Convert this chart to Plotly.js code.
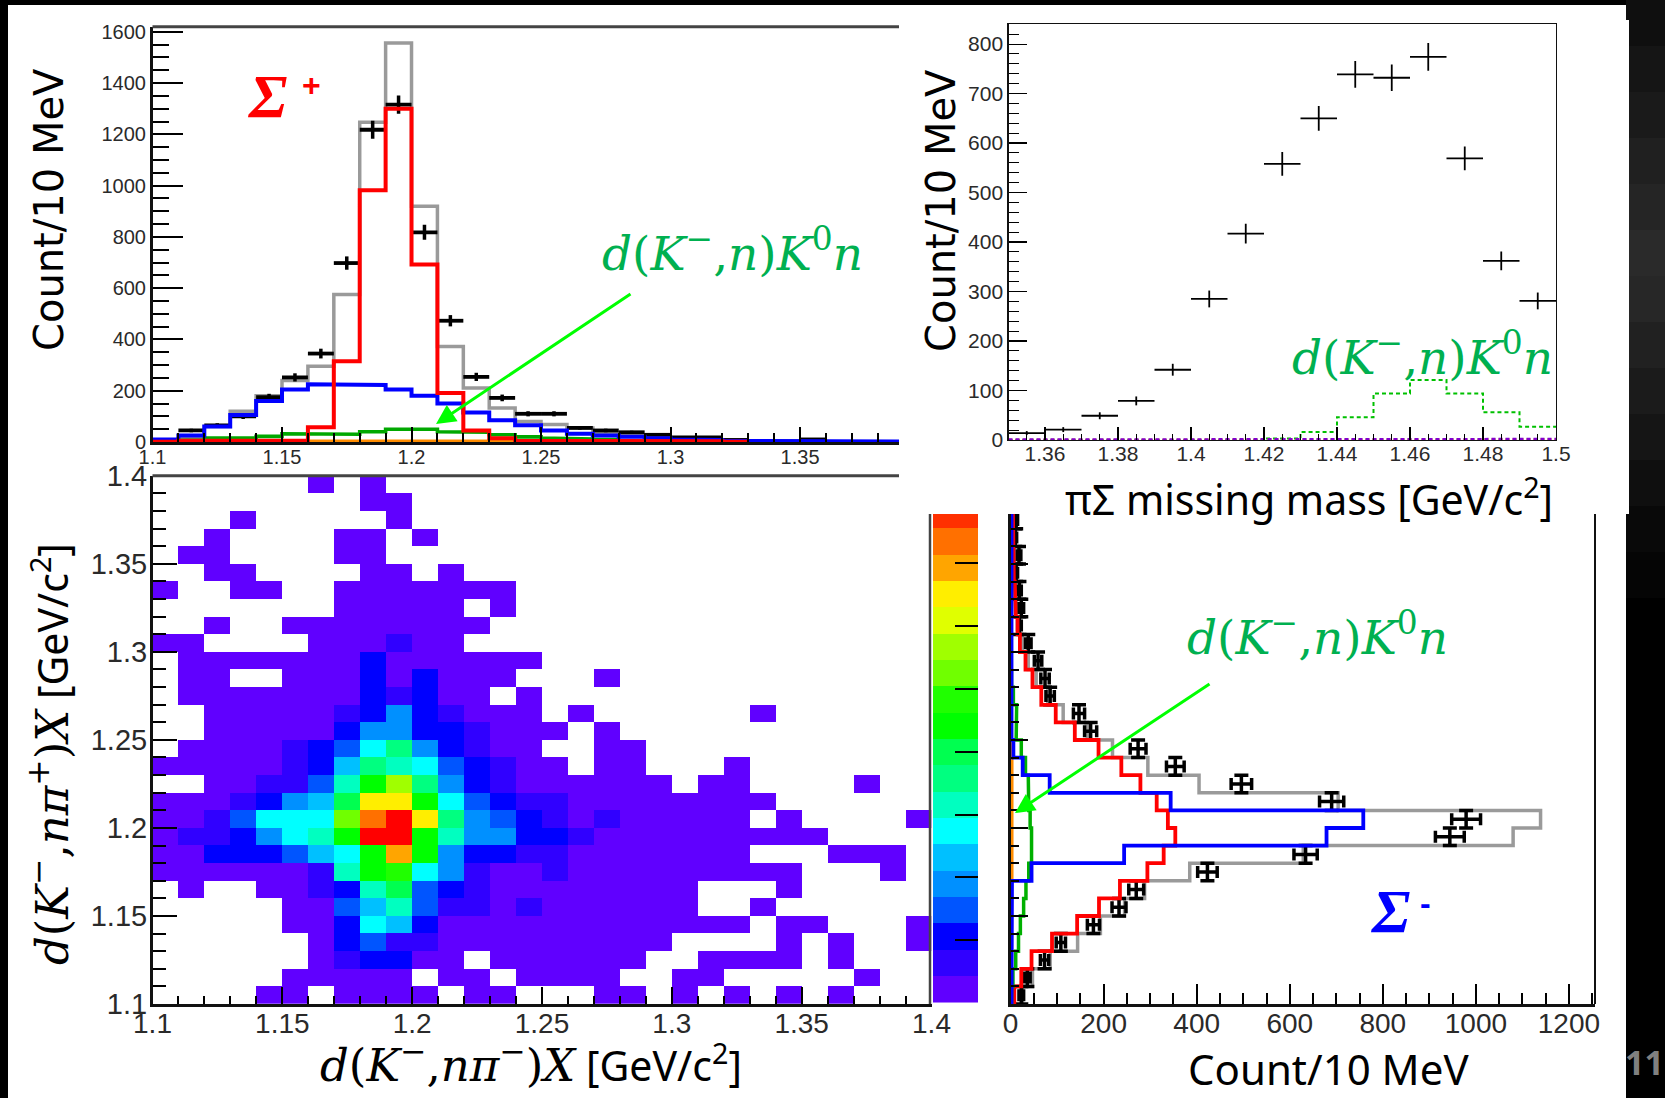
<!DOCTYPE html>
<html><head><meta charset="utf-8">
<script src="https://cdn.plot.ly/plotly-3.0.1.min.js"></script>
<style>html,body{margin:0;padding:0;background:#000;overflow:hidden}</style>
</head><body><div id="chart" style="width:1665px;height:1098px"></div>
<script>
const W = 1665, H = 1098, _ = null;

// top-left: Sigma+ projection (10 MeV bins starting at 1.10)
const topGrey  = [5,15,60,120,180,240,295,575,1247,1556,920,373,211,133,80,68,55,35,25,15,10,8,5,2,1,1,1,1,1];
const topRed   = [1,5,5,5,5,5,58,315,982,1300,692,191,45,15,5,5,5,5,4,4,3,3,1];
const topBlue  = [10,25,60,105,160,205,225,222,222,205,180,150,115,85,65,45,32,25,20,15,10,8,5,2,2,2,2,2,2];
const topGreen = [5,8,15,15,22,32,30,30,40,50,50,40,38,28,20,15,12,10,5,2];
const topOrangeX = [1.16,1.24];
const topOrangeV = [3,3];
const topDataX = [1.115,1.125,1.135,1.145,1.155,1.165,1.175,1.185,1.195,1.205,1.215,1.225,1.235,1.245,1.255,1.265,1.275,1.285,1.295,1.305,1.315,1.325,1.335,1.345,1.355];
const topData  = [45,65,100,175,252,345,698,1218,1316,818,473,254,172,110,110,55,45,38,28,18,18,8,2,2,10];
const topDataErr = [7,8,10,13,16,19,26,35,36,29,22,16,13,10,10,7,7,6,5,4,4,3,1,1,3];

// top-right: pi-Sigma missing mass (bins 1.35 .. 1.50)
const trDataX = [1.355,1.365,1.375,1.385,1.395,1.405,1.415,1.425,1.435,1.445,1.455,1.465,1.475,1.485,1.495];
const trData  = [14,21,49,79,142,285,417,558,650,739,732,774,569,362,281];
const trErr   = [4,5,7,9,12,17,20,24,25,27,27,28,24,19,17];
const trGreen = [0,0,0,0,0,0,0,3,16,46,94,121,94,56,27];
const trPurple= [1,1,1,1,1,2,2,2,2,2,2,2,2,2,2];
const trOrange= [0,0,0,0,0,0,1,1,1,1,1,1,1,1,1];

// right: Sigma- projection (10 MeV bins starting at 1.10, y direction)
const rightGrey  = [25,47,85,144,193,245,288,385,629,1080,1139,704,405,295,219,165,113,80,55,38,25,18,13,10,8,7,6,6];
const rightRed   = [8,23,45,89,143,190,235,294,329,354,338,314,279,238,189,138,97,66,47,32,20,15,11,9,7,6,6,5];
const rightBlue  = [2,2,2,2,2,2,3,45,244,679,758,344,84,26,6,2,2,2,2,2,2,2,2,2,2,2,2,2];
const rightGreen = [2,5,11,17,21,28,33,39,45,45,42,39,38,32,23,12,13,6,2];
const rightOrangeY = [1.17,1.25];
const rightOrangeV = [2,2];
const rightPurpleY = [1.15,1.21];
const rightPurpleV = [1,1];
const rightDataY = [1.105,1.115,1.125,1.135,1.145,1.155,1.165,1.175,1.185,1.195,1.205,1.215,1.225,1.235,1.245,1.255,1.265,1.275,1.285,1.295,1.305,1.315,1.325,1.335,1.345,1.355,1.365,1.375];
const rightData  = [23,36,73,108,178,233,270,423,634,944,979,690,496,354,274,172,147,85,74,59,38,19,23,19,12,18,10,12];
const rightErr   = [5,6,9,10,13,15,16,21,25,31,31,26,22,19,17,13,12,9,9,8,6,4,5,4,3,4,3,3];

// colour levels (ROOT rainbow palette, bottom to top)
const levelColors = ['#6000ff','#3000ff','#0000ff','#0055ff','#0090ff','#00c0ff','#00ffff','#00ffc0','#00ff80','#00ff50',
                     '#00ff00','#20ff00','#70ff00','#a0ff00','#e0ff00','#ffee00','#ffa500','#ff7000','#ff3000','#ff0000'];
const levelStep = 4.2;

// slide background greys down the right-hand strip
const stripGreys = ['#0f0f0f','#151515','#1a1a1a','#202020','#252525','#2a2a2a','#272727','#212121','#1b1b1b','#151515','#0f0f0f','#090909','#050505'];

// 2D histogram, colour level per cell; first row is the top row (1.39-1.40)
const cells = [
[_,_,_,_,_,_,0,_,0,_, _,_,_,_,_,_,_,_,_,_, _,_,_,_,_,_,_,_,_,_],
[_,_,_,_,_,_,_,_,0,0, _,_,_,_,_,_,_,_,_,_, _,_,_,_,_,_,_,_,_,_],
[_,_,_,0,_,_,_,_,_,0, _,_,_,_,_,_,_,_,_,_, _,_,_,_,_,_,_,_,_,_],
[_,_,0,_,_,_,_,0,0,_, 0,_,_,_,_,_,_,_,_,_, _,_,_,_,_,_,_,_,_,_],
[_,0,0,_,_,_,_,0,0,_, _,_,_,_,_,_,_,_,_,_, _,_,_,_,_,_,_,_,_,_],
[_,_,0,0,_,_,_,_,0,0, _,0,_,_,_,_,_,_,_,_, _,_,_,_,_,_,_,_,_,_],
[0,_,_,0,0,_,_,0,0,0, 0,0,0,0,_,_,_,_,_,_, _,_,_,_,_,_,_,_,_,_],
[_,_,_,_,_,_,_,0,0,0, 0,0,_,0,_,_,_,_,_,_, _,_,_,_,_,_,_,_,_,_],
[_,_,0,_,_,0,0,0,0,0, 0,0,0,_,_,_,_,_,_,_, _,_,_,_,_,_,_,_,_,_],
[0,0,_,_,_,_,0,0,0,1, 0,0,_,_,_,_,_,_,_,_, _,_,_,_,_,_,_,_,_,_],
[_,0,0,0,0,0,0,0,2,0, 0,0,0,0,0,_,_,_,_,_, _,_,_,_,_,_,_,_,_,_],
[_,0,0,_,_,0,0,0,2,0, 2,0,0,0,_,_,_,0,_,_, _,_,_,_,_,_,_,_,_,_],
[_,0,0,0,0,0,0,0,2,1, 2,0,0,_,0,_,_,_,_,_, _,_,_,_,_,_,_,_,_,_],
[_,_,0,0,0,0,0,1,2,4, 2,1,0,0,0,_,0,_,_,_, _,_,_,0,_,_,_,_,_,_],
[_,_,0,0,0,0,0,2,4,4, 2,2,1,0,0,0,_,0,_,_, _,_,_,_,_,_,_,_,_,_],
[_,0,0,0,0,1,2,3,6,8, 4,2,1,0,0,_,_,0,0,_, _,_,_,_,_,_,_,_,_,_],
[0,0,0,0,0,1,2,5,8,7, 6,3,2,1,0,0,_,0,0,_, _,_,0,_,_,_,_,_,_,_],
[_,_,0,0,1,1,3,7,10,13, 8,4,2,1,0,0,0,0,0,0, _,0,0,_,_,_,_,0,_,_],
[0,0,0,1,2,4,5,9,15,15, 10,6,3,2,1,1,0,0,0,0, 0,0,0,0,_,_,_,_,_,_],
[0,0,1,3,6,6,6,12,17,19, 15,8,4,3,2,1,0,1,0,0, 0,0,0,_,0,_,_,_,_,0],
[0,1,1,2,4,6,7,10,19,19, 10,7,4,4,2,2,1,0,0,0, 0,0,0,0,0,0,_,_,_,_],
[0,0,2,2,2,3,5,6,10,16, 10,4,2,2,1,1,0,0,0,0, 0,0,0,_,_,_,0,0,0,_],
[0,0,0,0,0,0,1,7,10,11, 6,4,1,0,0,1,0,0,0,0, 0,0,0,0,0,_,_,_,0,_],
[_,0,_,_,0,0,1,2,7,9, 3,2,1,0,0,0,0,0,0,0, 0,_,_,_,0,_,_,_,_,_],
[_,_,_,_,_,0,0,3,5,7, 3,1,1,0,1,0,0,0,0,0, 0,_,_,0,_,_,_,_,_,_],
[_,_,_,_,_,0,0,2,6,5, 2,0,0,0,0,0,0,0,0,0, 0,0,0,_,0,0,_,_,_,0],
[_,_,_,_,_,_,0,2,3,1, 1,0,0,0,0,0,0,0,0,0, _,_,_,_,0,_,0,_,_,0],
[_,_,_,_,_,_,0,1,2,2, 0,0,_,0,0,0,0,0,0,_, _,0,0,0,0,_,0,_,_,_],
[_,_,_,_,_,0,0,0,0,0, _,0,0,_,0,0,0,0,_,_, 0,0,_,_,_,_,_,0,_,_],
[_,_,_,_,0,0,_,0,0,0, 0,_,0,0,_,_,_,0,0,_, 0,_,0,_,0,_,0,_,_,_]
];

// ---- helpers ----
const binEdges = n => Array.from({length:n+1}, (_v,i) => +(1.10 + i*0.01).toFixed(2));
function steps(start, width, vals){
  const pos = [], val = [];
  vals.forEach((v,i) => { pos.push(+(start+i*width).toFixed(3), +(start+(i+1)*width).toFixed(3)); val.push(v,v); });
  return {pos, val};
}
const vh = (vals, color, width, axes, dash, start=1.10) => {
  const s = steps(start, 0.01, vals);
  return {type:'scatter', mode:'lines', x:s.pos, y:s.val, xaxis:axes[0], yaxis:axes[1],
          line:{color, width, dash:dash||'solid'}, hoverinfo:'skip'};
};
const hz = (vals, color, width, axes, start=1.10) => {
  const s = steps(start, 0.01, vals);
  return {type:'scatter', mode:'lines', x:s.val, y:s.pos, xaxis:axes[0], yaxis:axes[1],
          line:{color, width}, hoverinfo:'skip'};
};
const dx = ([a,b]) => [a/W, b/W];
const dy = ([t,b]) => [1-b/H, 1-t/H];
const tickCol = '#2a2a2a';

// ---- traces ----
const colorscale = [];
levelColors.forEach((c,i) => { colorscale.push([i/20,c],[(i+1)/20,c]); });
const TL=['x','y'], TR=['x2','y2'], MID=['x3','y3'], BR=['x4','y4'];
const traces = [
  vh(topGrey,'#9a9a9a',3.5,TL),
  {type:'scatter',mode:'markers',x:topDataX,y:topData,xaxis:'x',yaxis:'y',marker:{size:1,color:'#000'},hoverinfo:'skip',
   error_x:{type:'constant',value:0.005,thickness:3.8,width:0,color:'#000'},
   error_y:{type:'data',array:topDataErr,thickness:3.5,width:0,color:'#000'}},
  {type:'scatter',mode:'lines',x:topOrangeX,y:topOrangeV,xaxis:'x',yaxis:'y',line:{color:'#ff8c00',width:3.5},hoverinfo:'skip'},
  vh(topGreen,'#00a800',3.6,TL),
  vh(topBlue,'#0000ff',4,TL),
  vh(topRed,'#ff0000',4,TL),

  {type:'scatter',mode:'markers',x:trDataX,y:trData,xaxis:'x2',yaxis:'y2',marker:{size:1,color:'#000'},hoverinfo:'skip',
   error_x:{type:'constant',value:0.005,thickness:1.8,width:0,color:'#000'},
   error_y:{type:'data',array:trErr,thickness:1.8,width:0,color:'#000'}},
  vh(trGreen,'#00c000',2,TR,'4px,3px',1.35),
  vh(trOrange,'#ff8000',2.4,TR,'4px,3px',1.35),
  vh(trPurple,'#8000d0',2.4,TR,'4px,3px',1.35),

  {type:'heatmap',x:binEdges(30),y:binEdges(30),z:cells.slice().reverse(),xaxis:'x3',yaxis:'y3',
   zmin:-0.5,zmax:19.5,colorscale,showscale:false,hoverinfo:'skip'},
  {type:'heatmap',x:[0,1],y:levelColors.concat('end').map((c,i)=>+(i*levelStep).toFixed(1)),
   z:levelColors.map((c,i)=>[i]),xaxis:'x5',yaxis:'y5',
   zmin:-0.5,zmax:19.5,colorscale,showscale:false,hoverinfo:'skip'},

  hz(rightGrey,'#9a9a9a',3.5,BR),
  {type:'scatter',mode:'markers',x:rightData,y:rightDataY,xaxis:'x4',yaxis:'y4',marker:{size:1,color:'#000'},hoverinfo:'skip',
   error_x:{type:'data',array:rightErr,thickness:3.5,width:6,color:'#000'},
   error_y:{type:'constant',value:0.005,thickness:3.5,width:7,color:'#000'}},
  hz(rightRed,'#ff0000',3.8,BR),
  {type:'scatter',mode:'lines',x:rightPurpleV,y:rightPurpleY,xaxis:'x4',yaxis:'y4',line:{color:'#8000d0',width:3},hoverinfo:'skip'},
  {type:'scatter',mode:'lines',x:rightOrangeV,y:rightOrangeY,xaxis:'x4',yaxis:'y4',line:{color:'#ff8c00',width:4},hoverinfo:'skip'},
  hz(rightGreen,'#00b000',3.5,BR),
  hz(rightBlue,'#0000ff',3.8,BR)
];

// ---- axes ----
const axis = (o) => Object.assign({showgrid:false,zeroline:false,showline:true,linecolor:'#111',linewidth:2.5,
  ticks:'inside',tickcolor:'#000',tickwidth:2,tickfont:{family:'Liberation Sans',color:tickCol},fixedrange:true,layer:'above traces'},o);

const layout = {
  width:W,height:H,margin:{l:0,r:0,t:0,b:0},paper_bgcolor:'#000',plot_bgcolor:'rgba(0,0,0,0)',showlegend:false,
  xaxis:axis({domain:dx([152.5,899]),anchor:'y',range:[1.1,1.3882],tick0:1.1,dtick:0.05,ticklen:15,ticklabelstandoff:-5,tickfont:{family:'Liberation Sans',size:20,color:tickCol},
    minor:{ticks:'inside',tick0:1.1,dtick:0.01,ticklen:9,tickcolor:'#000',tickwidth:2}}),
  yaxis:axis({domain:dy([26.7,442]),anchor:'x',range:[0,1620],tick0:0,dtick:200,ticklen:30,tickfont:{family:'Liberation Sans',size:20,color:tickCol},
    minor:{ticks:'inside',tick0:0,dtick:50,ticklen:16,tickcolor:'#000',tickwidth:2}}),

  xaxis2:axis({domain:dx([1008.5,1556]),anchor:'y2',range:[1.35,1.5],tick0:1.36,dtick:0.02,ticklen:13,linewidth:1.2,tickwidth:1.2,mirror:true,ticklabelstandoff:-5,
    tickfont:{family:'Liberation Sans',size:21,color:tickCol},
    minor:{ticks:'inside',tick0:1.35,dtick:0.005,ticklen:6,tickcolor:'#000',tickwidth:1}}),
  yaxis2:axis({domain:dy([24.3,440]),anchor:'x2',range:[0,840],tick0:0,dtick:100,ticklen:18,linewidth:1.2,tickwidth:1.2,mirror:true,
    tickfont:{family:'Liberation Sans',size:21,color:tickCol},
    minor:{ticks:'inside',tick0:0,dtick:20,ticklen:10,tickcolor:'#000',tickwidth:1}}),

  xaxis3:axis({domain:dx([152.5,931.5]),anchor:'y3',range:[1.1,1.4],tick0:1.1,dtick:0.05,ticklen:17,ticklabelstandoff:-7,tickfont:{family:'Liberation Sans',size:28,color:tickCol},
    minor:{ticks:'inside',tick0:1.1,dtick:0.01,ticklen:8,tickcolor:'#000',tickwidth:2}}),
  yaxis3:axis({domain:dy([475.7,1004]),anchor:'x3',range:[1.1,1.4],tick0:1.1,dtick:0.05,ticklen:24,ticklabelstandoff:-3,tickfont:{family:'Liberation Sans',size:29,color:tickCol},
    minor:{ticks:'inside',tick0:1.1,dtick:0.01,ticklen:13,tickcolor:'#000',tickwidth:2}}),

  xaxis4:axis({domain:dx([1010.6,1595]),anchor:'y4',range:[0,1256],tick0:0,dtick:200,ticklen:20,ticklabelstandoff:-7,tickfont:{family:'Liberation Sans',size:28,color:tickCol},
    minor:{ticks:'inside',tick0:0,dtick:50,ticklen:11,tickcolor:'#000',tickwidth:2}}),
  yaxis4:axis({domain:dy([514,1004]),anchor:'x4',range:[1.1,1.3784],tick0:1.1,dtick:0.05,ticklen:17,showticklabels:false,
    minor:{ticks:'inside',tick0:1.1,dtick:0.01,ticklen:8,tickcolor:'#000',tickwidth:2}}),

  xaxis5:{domain:dx([933,978]),anchor:'y5',range:[0,1],visible:false,fixedrange:true},
  yaxis5:{domain:dy([514,1003]),anchor:'x5',side:'right',range:[0,77.87],showgrid:false,zeroline:false,showline:false,fixedrange:true,
    tick0:0,dtick:10,ticks:'inside',ticklen:23,tickwidth:2,tickcolor:'#000',showticklabels:false,layer:'above traces'},

  shapes:[],
  annotations:[]
};
// right-hand slide strip, then the white page and frame lines
stripGreys.forEach((c,i) => layout.shapes.push({type:'rect',xref:'paper',yref:'paper',layer:'below',
  x0:1626/W,x1:1,y0:1-(i+1)*46/H,y1:1-i*46/H,fillcolor:c,line:{width:0}}));
layout.shapes.push(
  {type:'rect',xref:'paper',yref:'paper',layer:'below',x0:8/W,x1:1626/W,y0:0,y1:1-5/H,fillcolor:'#fff',line:{width:0}},
  {type:'rect',xref:'paper',yref:'paper',layer:'below',x0:1626/W,x1:1629/W,y0:1-514/H,y1:1-20/H,fillcolor:'#fff',line:{width:0}},
  {type:'line',xref:'paper',yref:'paper',x0:152.5/W,x1:899/W,y0:1-26.7/H,y1:1-26.7/H,line:{color:'#444',width:3}},
  {type:'line',xref:'paper',yref:'paper',x0:152.5/W,x1:899/W,y0:1-475.7/H,y1:1-475.7/H,line:{color:'#444',width:3}},
  {type:'line',xref:'paper',yref:'paper',x0:930/W,x1:930/W,y0:1-1004/H,y1:1-514/H,line:{color:'#444',width:2.5}},
  {type:'line',xref:'paper',yref:'paper',x0:1595/W,x1:1595/W,y0:1-1004/H,y1:1-514/H,line:{color:'#111',width:2}}
);

// ---- text ----
const note = (px,py,text,size,color,family,extra) => layout.annotations.push(Object.assign(
  {xref:'paper',yref:'paper',x:px/W,y:1-py/H,xanchor:'center',yanchor:'middle',showarrow:false,text,
   font:{size,color,family}},extra||{}));
const serif = 'Liberation Serif', math = 'DejaVu Serif', sans = 'Noto Sans';
const reaction = '<i>d</i>(<i>K</i><sup>−</sup>,<i>n</i>)<i>K</i><sup>0</sup><i>n</i>';
const bracket = '<span style="font-family:Noto Sans;font-size:41px"> [GeV/c<sup>2</sup>]</span>';
note(49,210,'Count/10 MeV',40,'#000','DejaVu Sans',{textangle:-90});
note(941,210,'Count/10 MeV',40,'#000','DejaVu Sans',{textangle:-90});
note(1309,497,'πΣ missing mass [GeV/c<sup>2</sup>]',41,'#000',sans);
note(1328,1068,'Count/10 MeV',42,'#000',sans);
note(531,1063,'<i>d</i>(<i>K</i><sup>−</sup>,<i>nπ</i><sup>−</sup>)<i>X</i>'+bracket,45,'#000',math);
note(50,754,'<i>d</i>(<i>K</i><sup>−</sup>,<i>nπ</i><sup>+</sup>)<i>X</i>'+bracket,45,'#000',math,{textangle:-90});
note(732,250,reaction,47,'#00b050',math);
note(1422,354,reaction,47,'#00b050',math);
note(1317,634,reaction,47,'#00b050',math);
note(267,96,'<b><i>Σ</i></b>',62,'#ff0000',serif);
note(311,85,'<b>+</b>',32,'#ff0000','Liberation Sans');
note(1390,911,'<b><i>Σ</i></b>',62,'#0000ff',serif);
note(1425,903,'<b>-</b>',32,'#0000ff','Liberation Sans');
note(1644,1062,'<b>11</b>',34,'#808080',sans);

const arrow = (x0,y0,x1,y1) => layout.annotations.push({xref:'paper',yref:'paper',x:x1/W,y:1-y1/H,axref:'pixel',ayref:'pixel',
  ax:x0-x1,ay:y0-y1,showarrow:true,arrowhead:2,arrowsize:1.3,arrowwidth:3,arrowcolor:'#00ff00',text:''});
arrow(632,293,436,424);
arrow(1211,683,1015,813);

Plotly.newPlot('chart',traces,layout,{displayModeBar:false,staticPlot:true});
</script></body></html>
